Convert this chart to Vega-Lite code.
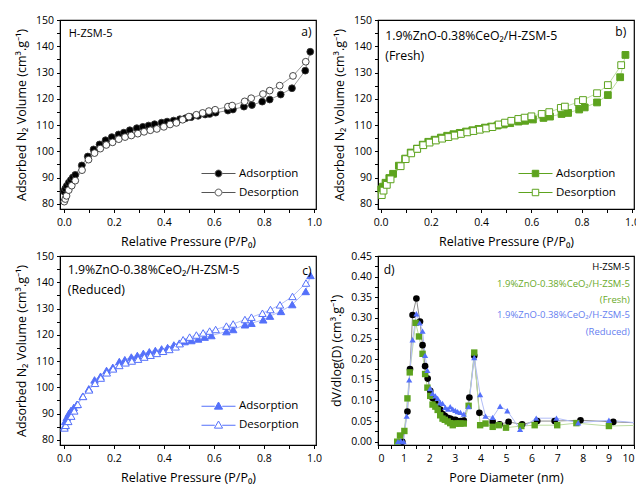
{
  "$schema": "https://vega.github.io/schema/vega-lite/v6.json",
  "padding": {"left": 14, "top": 14, "right": -3, "bottom": 0},
  "background": "white",
  "columns": 2,
  "spacing": {"row": 47, "column": 62},
  "bounds": "flush",
  "datasets": {
    "a": [
      {"P":0.001,"V":84.7,"s":"Adsorption"},{"P":0.006,"V":85.8,"s":"Adsorption"},{"P":0.012,"V":86.8,"s":"Adsorption"},{"P":0.02,"V":88.0,"s":"Adsorption"},{"P":0.028,"V":89.0,"s":"Adsorption"},{"P":0.036,"V":90.0,"s":"Adsorption"},{"P":0.046,"V":91.0,"s":"Adsorption"},{"P":0.072,"V":94.6,"s":"Adsorption"},{"P":0.096,"V":98.0,"s":"Adsorption"},{"P":0.119,"V":100.7,"s":"Adsorption"},{"P":0.143,"V":102.6,"s":"Adsorption"},{"P":0.167,"V":104.2,"s":"Adsorption"},{"P":0.192,"V":105.4,"s":"Adsorption"},{"P":0.219,"V":106.4,"s":"Adsorption"},{"P":0.24,"V":107.1,"s":"Adsorption"},{"P":0.264,"V":108.0,"s":"Adsorption"},{"P":0.292,"V":108.8,"s":"Adsorption"},{"P":0.316,"V":109.3,"s":"Adsorption"},{"P":0.339,"V":109.8,"s":"Adsorption"},{"P":0.363,"V":110.3,"s":"Adsorption"},{"P":0.391,"V":110.9,"s":"Adsorption"},{"P":0.413,"V":111.3,"s":"Adsorption"},{"P":0.439,"V":111.7,"s":"Adsorption"},{"P":0.464,"V":112.2,"s":"Adsorption"},{"P":0.487,"V":112.6,"s":"Adsorption"},{"P":0.509,"V":113.0,"s":"Adsorption"},{"P":0.537,"V":113.5,"s":"Adsorption"},{"P":0.565,"V":114.0,"s":"Adsorption"},{"P":0.583,"V":114.2,"s":"Adsorption"},{"P":0.607,"V":114.7,"s":"Adsorption"},{"P":0.656,"V":115.5,"s":"Adsorption"},{"P":0.676,"V":115.9,"s":"Adsorption"},{"P":0.72,"V":117.0,"s":"Adsorption"},{"P":0.752,"V":117.6,"s":"Adsorption"},{"P":0.793,"V":118.9,"s":"Adsorption"},{"P":0.823,"V":119.7,"s":"Adsorption"},{"P":0.867,"V":121.6,"s":"Adsorption"},{"P":0.912,"V":124.0,"s":"Adsorption"},{"P":0.965,"V":130.7,"s":"Adsorption"},{"P":0.985,"V":137.9,"s":"Adsorption"},
      {"P":0.002,"V":80.8,"s":"Desorption"},{"P":0.006,"V":81.8,"s":"Desorption"},{"P":0.011,"V":83.0,"s":"Desorption"},{"P":0.02,"V":85.2,"s":"Desorption"},{"P":0.032,"V":86.9,"s":"Desorption"},{"P":0.046,"V":88.8,"s":"Desorption"},{"P":0.073,"V":92.8,"s":"Desorption"},{"P":0.099,"V":96.8,"s":"Desorption"},{"P":0.123,"V":99.3,"s":"Desorption"},{"P":0.146,"V":101.0,"s":"Desorption"},{"P":0.17,"V":102.4,"s":"Desorption"},{"P":0.195,"V":103.4,"s":"Desorption"},{"P":0.22,"V":104.6,"s":"Desorption"},{"P":0.245,"V":105.4,"s":"Desorption"},{"P":0.27,"V":106.0,"s":"Desorption"},{"P":0.296,"V":106.7,"s":"Desorption"},{"P":0.321,"V":107.4,"s":"Desorption"},{"P":0.346,"V":108.0,"s":"Desorption"},{"P":0.372,"V":108.5,"s":"Desorption"},{"P":0.4,"V":109.3,"s":"Desorption"},{"P":0.425,"V":110.2,"s":"Desorption"},{"P":0.45,"V":110.8,"s":"Desorption"},{"P":0.475,"V":112.0,"s":"Desorption"},{"P":0.5,"V":113.2,"s":"Desorption"},{"P":0.53,"V":113.9,"s":"Desorption"},{"P":0.555,"V":114.6,"s":"Desorption"},{"P":0.58,"V":115.3,"s":"Desorption"},{"P":0.605,"V":115.8,"s":"Desorption"},{"P":0.656,"V":117.0,"s":"Desorption"},{"P":0.673,"V":117.4,"s":"Desorption"},{"P":0.723,"V":119.0,"s":"Desorption"},{"P":0.749,"V":120.2,"s":"Desorption"},{"P":0.796,"V":121.8,"s":"Desorption"},{"P":0.823,"V":123.1,"s":"Desorption"},{"P":0.863,"V":125.0,"s":"Desorption"},{"P":0.916,"V":128.7,"s":"Desorption"},{"P":0.967,"V":134.1,"s":"Desorption"}
    ],
    "b": [
      {"P":0.003,"V":85.5,"s":"Adsorption"},{"P":0.01,"V":86.5,"s":"Adsorption"},{"P":0.02,"V":88.0,"s":"Adsorption"},{"P":0.035,"V":89.8,"s":"Adsorption"},{"P":0.05,"V":91.4,"s":"Adsorption"},{"P":0.073,"V":94.5,"s":"Adsorption"},{"P":0.098,"V":97.2,"s":"Adsorption"},{"P":0.12,"V":99.5,"s":"Adsorption"},{"P":0.145,"V":101.0,"s":"Adsorption"},{"P":0.168,"V":102.5,"s":"Adsorption"},{"P":0.19,"V":103.6,"s":"Adsorption"},{"P":0.215,"V":104.4,"s":"Adsorption"},{"P":0.24,"V":105.2,"s":"Adsorption"},{"P":0.265,"V":105.9,"s":"Adsorption"},{"P":0.29,"V":106.5,"s":"Adsorption"},{"P":0.315,"V":107.0,"s":"Adsorption"},{"P":0.34,"V":107.5,"s":"Adsorption"},{"P":0.365,"V":108.0,"s":"Adsorption"},{"P":0.39,"V":108.5,"s":"Adsorption"},{"P":0.415,"V":109.0,"s":"Adsorption"},{"P":0.44,"V":109.4,"s":"Adsorption"},{"P":0.465,"V":109.8,"s":"Adsorption"},{"P":0.49,"V":110.2,"s":"Adsorption"},{"P":0.516,"V":110.7,"s":"Adsorption"},{"P":0.549,"V":111.3,"s":"Adsorption"},{"P":0.575,"V":111.6,"s":"Adsorption"},{"P":0.606,"V":112.1,"s":"Adsorption"},{"P":0.648,"V":112.7,"s":"Adsorption"},{"P":0.674,"V":113.2,"s":"Adsorption"},{"P":0.72,"V":114.2,"s":"Adsorption"},{"P":0.746,"V":114.6,"s":"Adsorption"},{"P":0.79,"V":115.9,"s":"Adsorption"},{"P":0.812,"V":116.7,"s":"Adsorption"},{"P":0.861,"V":118.6,"s":"Adsorption"},{"P":0.904,"V":121.4,"s":"Adsorption"},{"P":0.953,"V":128.2,"s":"Adsorption"},{"P":0.974,"V":136.7,"s":"Adsorption"},
      {"P":0.005,"V":83.3,"s":"Desorption"},{"P":0.012,"V":85.0,"s":"Desorption"},{"P":0.025,"V":87.2,"s":"Desorption"},{"P":0.04,"V":89.3,"s":"Desorption"},{"P":0.08,"V":94.3,"s":"Desorption"},{"P":0.1,"V":97.0,"s":"Desorption"},{"P":0.122,"V":99.2,"s":"Desorption"},{"P":0.146,"V":100.9,"s":"Desorption"},{"P":0.17,"V":102.3,"s":"Desorption"},{"P":0.195,"V":103.3,"s":"Desorption"},{"P":0.22,"V":104.1,"s":"Desorption"},{"P":0.245,"V":104.8,"s":"Desorption"},{"P":0.27,"V":105.4,"s":"Desorption"},{"P":0.295,"V":106.0,"s":"Desorption"},{"P":0.32,"V":106.6,"s":"Desorption"},{"P":0.345,"V":107.2,"s":"Desorption"},{"P":0.37,"V":107.7,"s":"Desorption"},{"P":0.395,"V":108.2,"s":"Desorption"},{"P":0.42,"V":108.7,"s":"Desorption"},{"P":0.445,"V":109.2,"s":"Desorption"},{"P":0.47,"V":110.2,"s":"Desorption"},{"P":0.495,"V":110.9,"s":"Desorption"},{"P":0.52,"V":111.6,"s":"Desorption"},{"P":0.548,"V":112.3,"s":"Desorption"},{"P":0.573,"V":112.8,"s":"Desorption"},{"P":0.6,"V":113.3,"s":"Desorption"},{"P":0.641,"V":114.2,"s":"Desorption"},{"P":0.671,"V":114.9,"s":"Desorption"},{"P":0.717,"V":116.5,"s":"Desorption"},{"P":0.733,"V":117.0,"s":"Desorption"},{"P":0.786,"V":118.7,"s":"Desorption"},{"P":0.805,"V":119.5,"s":"Desorption"},{"P":0.861,"V":122.1,"s":"Desorption"},{"P":0.904,"V":125.2,"s":"Desorption"},{"P":0.957,"V":132.8,"s":"Desorption"}
    ],
    "c": [
      {"P":0.002,"V":85.0,"s":"Adsorption"},{"P":0.006,"V":87.0,"s":"Adsorption"},{"P":0.012,"V":88.5,"s":"Adsorption"},{"P":0.02,"V":90.0,"s":"Adsorption"},{"P":0.029,"V":91.2,"s":"Adsorption"},{"P":0.04,"V":92.3,"s":"Adsorption"},{"P":0.052,"V":93.4,"s":"Adsorption"},{"P":0.076,"V":96.6,"s":"Adsorption"},{"P":0.1,"V":99.4,"s":"Adsorption"},{"P":0.123,"V":102.8,"s":"Adsorption"},{"P":0.147,"V":104.2,"s":"Adsorption"},{"P":0.171,"V":106.4,"s":"Adsorption"},{"P":0.196,"V":107.6,"s":"Adsorption"},{"P":0.222,"V":109.8,"s":"Adsorption"},{"P":0.244,"V":110.5,"s":"Adsorption"},{"P":0.27,"V":111.5,"s":"Adsorption"},{"P":0.294,"V":112.1,"s":"Adsorption"},{"P":0.318,"V":112.9,"s":"Adsorption"},{"P":0.342,"V":113.5,"s":"Adsorption"},{"P":0.366,"V":114.0,"s":"Adsorption"},{"P":0.391,"V":114.6,"s":"Adsorption"},{"P":0.415,"V":115.1,"s":"Adsorption"},{"P":0.44,"V":116.1,"s":"Adsorption"},{"P":0.462,"V":116.8,"s":"Adsorption"},{"P":0.483,"V":117.4,"s":"Adsorption"},{"P":0.51,"V":117.8,"s":"Adsorption"},{"P":0.537,"V":118.4,"s":"Adsorption"},{"P":0.563,"V":119.1,"s":"Adsorption"},{"P":0.59,"V":119.7,"s":"Adsorption"},{"P":0.65,"V":121.2,"s":"Adsorption"},{"P":0.677,"V":122.0,"s":"Adsorption"},{"P":0.724,"V":123.8,"s":"Adsorption"},{"P":0.75,"V":124.4,"s":"Adsorption"},{"P":0.797,"V":125.7,"s":"Adsorption"},{"P":0.824,"V":127.1,"s":"Adsorption"},{"P":0.868,"V":128.9,"s":"Adsorption"},{"P":0.913,"V":131.5,"s":"Adsorption"},{"P":0.967,"V":136.5,"s":"Adsorption"},{"P":0.986,"V":142.6,"s":"Adsorption"},
      {"P":0.003,"V":84.5,"s":"Desorption"},{"P":0.008,"V":85.5,"s":"Desorption"},{"P":0.018,"V":87.0,"s":"Desorption"},{"P":0.03,"V":89.0,"s":"Desorption"},{"P":0.042,"V":91.0,"s":"Desorption"},{"P":0.056,"V":93.5,"s":"Desorption"},{"P":0.077,"V":96.5,"s":"Desorption"},{"P":0.101,"V":99.0,"s":"Desorption"},{"P":0.125,"V":101.5,"s":"Desorption"},{"P":0.148,"V":103.5,"s":"Desorption"},{"P":0.172,"V":105.5,"s":"Desorption"},{"P":0.197,"V":107.0,"s":"Desorption"},{"P":0.222,"V":108.3,"s":"Desorption"},{"P":0.247,"V":109.3,"s":"Desorption"},{"P":0.272,"V":110.0,"s":"Desorption"},{"P":0.297,"V":110.7,"s":"Desorption"},{"P":0.322,"V":111.5,"s":"Desorption"},{"P":0.347,"V":112.2,"s":"Desorption"},{"P":0.372,"V":112.9,"s":"Desorption"},{"P":0.397,"V":113.7,"s":"Desorption"},{"P":0.422,"V":114.4,"s":"Desorption"},{"P":0.447,"V":115.4,"s":"Desorption"},{"P":0.463,"V":116.6,"s":"Desorption"},{"P":0.477,"V":118.1,"s":"Desorption"},{"P":0.503,"V":119.1,"s":"Desorption"},{"P":0.53,"V":119.9,"s":"Desorption"},{"P":0.557,"V":120.7,"s":"Desorption"},{"P":0.583,"V":121.4,"s":"Desorption"},{"P":0.607,"V":122.0,"s":"Desorption"},{"P":0.65,"V":123.3,"s":"Desorption"},{"P":0.677,"V":124.1,"s":"Desorption"},{"P":0.724,"V":125.8,"s":"Desorption"},{"P":0.75,"V":126.7,"s":"Desorption"},{"P":0.794,"V":128.2,"s":"Desorption"},{"P":0.826,"V":129.6,"s":"Desorption"},{"P":0.864,"V":131.4,"s":"Desorption"},{"P":0.914,"V":134.6,"s":"Desorption"},{"P":0.968,"V":139.7,"s":"Desorption"}
    ],
    "d": [
      {"D":0.95,"v":0.0,"s":"H-ZSM-5"},{"D":1.15,"v":0.073,"s":"H-ZSM-5"},{"D":1.25,"v":0.176,"s":"H-ZSM-5"},{"D":1.35,"v":0.307,"s":"H-ZSM-5"},{"D":1.5,"v":0.347,"s":"H-ZSM-5"},{"D":1.64,"v":0.291,"s":"H-ZSM-5"},{"D":1.74,"v":0.234,"s":"H-ZSM-5"},{"D":1.84,"v":0.183,"s":"H-ZSM-5"},{"D":1.94,"v":0.153,"s":"H-ZSM-5"},{"D":2.04,"v":0.123,"s":"H-ZSM-5"},{"D":2.13,"v":0.106,"s":"H-ZSM-5"},{"D":2.24,"v":0.095,"s":"H-ZSM-5"},{"D":2.33,"v":0.083,"s":"H-ZSM-5"},{"D":2.43,"v":0.078,"s":"H-ZSM-5"},{"D":2.52,"v":0.067,"s":"H-ZSM-5"},{"D":2.61,"v":0.063,"s":"H-ZSM-5"},{"D":2.72,"v":0.058,"s":"H-ZSM-5"},{"D":2.82,"v":0.056,"s":"H-ZSM-5"},{"D":2.92,"v":0.053,"s":"H-ZSM-5"},{"D":3.02,"v":0.053,"s":"H-ZSM-5"},{"D":3.11,"v":0.05,"s":"H-ZSM-5"},{"D":3.22,"v":0.05,"s":"H-ZSM-5"},{"D":3.35,"v":0.051,"s":"H-ZSM-5"},{"D":3.57,"v":0.107,"s":"H-ZSM-5"},{"D":3.76,"v":0.208,"s":"H-ZSM-5"},{"D":3.96,"v":0.07,"s":"H-ZSM-5"},{"D":4.48,"v":0.048,"s":"H-ZSM-5"},{"D":4.75,"v":0.042,"s":"H-ZSM-5"},{"D":5.1,"v":0.048,"s":"H-ZSM-5"},{"D":5.63,"v":0.042,"s":"H-ZSM-5"},{"D":6.22,"v":0.05,"s":"H-ZSM-5"},{"D":6.9,"v":0.05,"s":"H-ZSM-5"},{"D":7.91,"v":0.052,"s":"H-ZSM-5"},{"D":9.19,"v":0.048,"s":"H-ZSM-5"},{"D":10.4,"v":0.045,"s":"H-ZSM-5"},
      {"D":0.75,"v":0.0,"s":"Fresh"},{"D":0.86,"v":0.015,"s":"Fresh"},{"D":1.03,"v":0.026,"s":"Fresh"},{"D":1.15,"v":0.105,"s":"Fresh"},{"D":1.24,"v":0.168,"s":"Fresh"},{"D":1.47,"v":0.288,"s":"Fresh"},{"D":1.6,"v":0.255,"s":"Fresh"},{"D":1.74,"v":0.213,"s":"Fresh"},{"D":1.84,"v":0.164,"s":"Fresh"},{"D":1.93,"v":0.131,"s":"Fresh"},{"D":2.04,"v":0.111,"s":"Fresh"},{"D":2.13,"v":0.09,"s":"Fresh"},{"D":2.24,"v":0.085,"s":"Fresh"},{"D":2.33,"v":0.077,"s":"Fresh"},{"D":2.43,"v":0.064,"s":"Fresh"},{"D":2.52,"v":0.056,"s":"Fresh"},{"D":2.61,"v":0.053,"s":"Fresh"},{"D":2.72,"v":0.049,"s":"Fresh"},{"D":2.82,"v":0.045,"s":"Fresh"},{"D":2.92,"v":0.04,"s":"Fresh"},{"D":3.02,"v":0.044,"s":"Fresh"},{"D":3.11,"v":0.044,"s":"Fresh"},{"D":3.22,"v":0.044,"s":"Fresh"},{"D":3.35,"v":0.044,"s":"Fresh"},{"D":3.54,"v":0.087,"s":"Fresh"},{"D":3.76,"v":0.216,"s":"Fresh"},{"D":3.99,"v":0.04,"s":"Fresh"},{"D":4.2,"v":0.044,"s":"Fresh"},{"D":4.48,"v":0.036,"s":"Fresh"},{"D":4.72,"v":0.04,"s":"Fresh"},{"D":5.0,"v":0.034,"s":"Fresh"},{"D":5.6,"v":0.038,"s":"Fresh"},{"D":6.12,"v":0.04,"s":"Fresh"},{"D":7.0,"v":0.04,"s":"Fresh"},{"D":7.75,"v":0.045,"s":"Fresh"},{"D":9.02,"v":0.038,"s":"Fresh"},{"D":10.4,"v":0.04,"s":"Fresh"},
      {"D":0.78,"v":0.0,"s":"Reduced"},{"D":0.89,"v":0.002,"s":"Reduced"},{"D":1.0,"v":0.0,"s":"Reduced"},{"D":1.12,"v":0.062,"s":"Reduced"},{"D":1.22,"v":0.15,"s":"Reduced"},{"D":1.35,"v":0.247,"s":"Reduced"},{"D":1.5,"v":0.31,"s":"Reduced"},{"D":1.63,"v":0.288,"s":"Reduced"},{"D":1.74,"v":0.268,"s":"Reduced"},{"D":1.84,"v":0.209,"s":"Reduced"},{"D":1.93,"v":0.173,"s":"Reduced"},{"D":2.04,"v":0.129,"s":"Reduced"},{"D":2.13,"v":0.117,"s":"Reduced"},{"D":2.24,"v":0.111,"s":"Reduced"},{"D":2.33,"v":0.105,"s":"Reduced"},{"D":2.43,"v":0.095,"s":"Reduced"},{"D":2.52,"v":0.093,"s":"Reduced"},{"D":2.63,"v":0.083,"s":"Reduced"},{"D":2.73,"v":0.079,"s":"Reduced"},{"D":2.82,"v":0.085,"s":"Reduced"},{"D":2.92,"v":0.079,"s":"Reduced"},{"D":3.02,"v":0.076,"s":"Reduced"},{"D":3.11,"v":0.073,"s":"Reduced"},{"D":3.22,"v":0.071,"s":"Reduced"},{"D":3.35,"v":0.067,"s":"Reduced"},{"D":3.54,"v":0.085,"s":"Reduced"},{"D":3.76,"v":0.204,"s":"Reduced"},{"D":3.99,"v":0.114,"s":"Reduced"},{"D":4.2,"v":0.062,"s":"Reduced"},{"D":4.48,"v":0.059,"s":"Reduced"},{"D":4.77,"v":0.086,"s":"Reduced"},{"D":5.05,"v":0.075,"s":"Reduced"},{"D":5.55,"v":0.03,"s":"Reduced"},{"D":6.18,"v":0.057,"s":"Reduced"},{"D":6.97,"v":0.057,"s":"Reduced"},{"D":7.82,"v":0.046,"s":"Reduced"},{"D":9.02,"v":0.052,"s":"Reduced"},{"D":10.4,"v":0.044,"s":"Reduced"}
    ]
  },
  "concat": [
    {
      "width": 256, "height": 189,
      "layer": [
        {"data": {"name": "a"},
         "mark": {"type": "line", "stroke": "#9a9a9a", "strokeWidth": 1},
         "encoding": {
           "x": {"field": "P", "type": "quantitative", "scale": {"domain": [-0.015, 1.008], "nice": false, "zero": false},
                 "axis": {"title": "Relative Pressure (P/P₀)", "tickCount": 100, "labelOverlap": false, "values": [0,0.1,0.2,0.3,0.4,0.5,0.6,0.7,0.8,0.9,1.0], "labelExpr": "round(datum.value*10) % 2 == 0 ? format(datum.value, '.1f') : ''"}},
           "y": {"field": "V", "type": "quantitative", "scale": {"domain": [78, 150], "nice": false, "zero": false},
                 "axis": {"title": "Adsorbed N₂ Volume (cm³.g⁻¹)", "tickCount": 100, "labelOverlap": false, "values": [80,85,90,95,100,105,110,115,120,125,130,135,140,145,150], "labelExpr": "datum.value % 10 == 0 ? format(datum.value, 'd') : ''"}},
           "detail": {"field": "s"}
         }},
        {"data": {"name": "a"},
         "mark": {"type": "point", "shape": "circle", "filled": true, "size": 46, "stroke": "#333333", "strokeWidth": 0.9, "opacity": 1},
         "encoding": {
           "x": {"field": "P", "type": "quantitative"},
           "y": {"field": "V", "type": "quantitative"},
           "fill": {"field": "s", "type": "nominal", "scale": {"domain": ["Adsorption", "Desorption"], "range": ["#000000", "#ffffff"]},
                    "legend": {"orient": "none", "legendX": 141, "legendY": 145, "title": null,
                               "symbolType": "M-1,0H-0.22M0.22,0H1M-0.2,0A0.2,0.2,0,1,0,0.2,0A0.2,0.2,0,1,0,-0.2,0Z",
                               "symbolSize": 1156, "symbolStrokeColor": "#555555", "symbolStrokeWidth": 1, "clipHeight": 17, "rowPadding": 2, "padding": 0, "labelOffset": 3}}
         }},
        {"data": {"values": [{}]}, "mark": {"type": "text", "text": "H-ZSM-5", "align": "left", "baseline": "middle", "fontSize": 11},
         "encoding": {"x": {"datum": 0.02, "type": "quantitative"}, "y": {"datum": 144.5, "type": "quantitative"}}},
        {"data": {"values": [{}]}, "mark": {"type": "text", "text": "a)", "align": "right", "baseline": "middle", "fontSize": 12},
         "encoding": {"x": {"datum": 0.99, "type": "quantitative"}, "y": {"datum": 145.3, "type": "quantitative"}}}
      ]
    },
    {
      "width": 256, "height": 189,
      "layer": [
        {"data": {"name": "b"},
         "mark": {"type": "line", "stroke": "#bcdca0", "strokeWidth": 1},
         "encoding": {
           "x": {"field": "P", "type": "quantitative", "scale": {"domain": [-0.01, 1.008], "nice": false, "zero": false},
                 "axis": {"title": "Relative Pressure (P/P₀)", "tickCount": 100, "labelOverlap": false, "values": [0,0.1,0.2,0.3,0.4,0.5,0.6,0.7,0.8,0.9,1.0], "labelExpr": "round(datum.value*10) % 2 == 0 ? format(datum.value, '.1f') : ''"}},
           "y": {"field": "V", "type": "quantitative", "scale": {"domain": [78, 150], "nice": false, "zero": false},
                 "axis": {"title": "Adsorbed N₂ Volume (cm³.g⁻¹)", "tickCount": 100, "labelOverlap": false, "values": [80,85,90,95,100,105,110,115,120,125,130,135,140,145,150], "labelExpr": "datum.value % 10 == 0 ? format(datum.value, 'd') : ''"}},
           "detail": {"field": "s"}
         }},
        {"data": {"name": "b"},
         "mark": {"type": "point", "shape": "square", "filled": true, "size": 46, "stroke": "#5da31e", "strokeWidth": 1, "opacity": 1},
         "encoding": {
           "x": {"field": "P", "type": "quantitative"},
           "y": {"field": "V", "type": "quantitative"},
           "fill": {"field": "s", "type": "nominal", "scale": {"domain": ["Adsorption", "Desorption"], "range": ["#5da31e", "#ffffff"]},
                    "legend": {"orient": "none", "legendX": 140, "legendY": 145, "title": null,
                               "symbolType": "M-1,0H-0.2M0.2,0H1M-0.19,-0.19H0.19V0.19H-0.19Z",
                               "symbolSize": 1156, "symbolStrokeColor": "#5da31e", "symbolStrokeWidth": 1, "clipHeight": 17, "rowPadding": 2, "padding": 0, "labelOffset": 3}}
         }},
        {"data": {"values": [{}]}, "mark": {"type": "text", "text": "1.9%ZnO-0.38%CeO₂/H-ZSM-5", "align": "left", "baseline": "middle", "fontSize": 12.3},
         "encoding": {"x": {"datum": 0.019, "type": "quantitative"}, "y": {"datum": 144.0, "type": "quantitative"}}},
        {"data": {"values": [{}]}, "mark": {"type": "text", "text": "(Fresh)", "align": "left", "baseline": "middle", "fontSize": 12.3},
         "encoding": {"x": {"datum": 0.019, "type": "quantitative"}, "y": {"datum": 136.4, "type": "quantitative"}}},
        {"data": {"values": [{}]}, "mark": {"type": "text", "text": "b)", "align": "right", "baseline": "middle", "fontSize": 12},
         "encoding": {"x": {"datum": 0.977, "type": "quantitative"}, "y": {"datum": 145.3, "type": "quantitative"}}}
      ]
    },
    {
      "width": 256, "height": 189,
      "layer": [
        {"data": {"name": "c"},
         "mark": {"type": "line", "stroke": "#b2bdf7", "strokeWidth": 1},
         "encoding": {
           "x": {"field": "P", "type": "quantitative", "scale": {"domain": [-0.015, 1.008], "nice": false, "zero": false},
                 "axis": {"title": "Relative Pressure (P/P₀)", "tickCount": 100, "labelOverlap": false, "values": [0,0.1,0.2,0.3,0.4,0.5,0.6,0.7,0.8,0.9,1.0], "labelExpr": "round(datum.value*10) % 2 == 0 ? format(datum.value, '.1f') : ''"}},
           "y": {"field": "V", "type": "quantitative", "scale": {"domain": [78, 150], "nice": false, "zero": false},
                 "axis": {"title": "Adsorbed N₂ Volume (cm³.g⁻¹)", "tickCount": 100, "labelOverlap": false, "values": [80,85,90,95,100,105,110,115,120,125,130,135,140,145,150], "labelExpr": "datum.value % 10 == 0 ? format(datum.value, 'd') : ''"}},
           "detail": {"field": "s"}
         }},
        {"data": {"name": "c"},
         "mark": {"type": "point", "shape": "triangle-up", "filled": true, "size": 56, "stroke": "#5470fa", "strokeWidth": 1, "opacity": 1},
         "encoding": {
           "x": {"field": "P", "type": "quantitative"},
           "y": {"field": "V", "type": "quantitative"},
           "fill": {"field": "s", "type": "nominal", "scale": {"domain": ["Adsorption", "Desorption"], "range": ["#5470fa", "#ffffff"]},
                    "legend": {"orient": "none", "legendX": 141, "legendY": 142, "title": null,
                               "symbolType": "M-1,0H-0.22M0.22,0H1M0,-0.25L0.24,0.17H-0.24Z",
                               "symbolSize": 1156, "symbolStrokeColor": "#5470fa", "symbolStrokeWidth": 1, "clipHeight": 16.5, "rowPadding": 2, "padding": 0, "labelOffset": 3}}
         }},
        {"data": {"values": [{}]}, "mark": {"type": "text", "text": "1.9%ZnO-0.38%CeO₂/H-ZSM-5", "align": "left", "baseline": "middle", "fontSize": 12.3},
         "encoding": {"x": {"datum": 0.016, "type": "quantitative"}, "y": {"datum": 144.5, "type": "quantitative"}}},
        {"data": {"values": [{}]}, "mark": {"type": "text", "text": "(Reduced)", "align": "left", "baseline": "middle", "fontSize": 12.3},
         "encoding": {"x": {"datum": 0.016, "type": "quantitative"}, "y": {"datum": 136.9, "type": "quantitative"}}},
        {"data": {"values": [{}]}, "mark": {"type": "text", "text": "c)", "align": "right", "baseline": "middle", "fontSize": 12},
         "encoding": {"x": {"datum": 0.99, "type": "quantitative"}, "y": {"datum": 144.3, "type": "quantitative"}}}
      ]
    },
    {
      "width": 256, "height": 189,
      "layer": [
        {"data": {"name": "d"},
         "mark": {"type": "line", "strokeWidth": 1, "clip": true},
         "encoding": {
           "x": {"field": "D", "type": "quantitative", "scale": {"domain": [0, 10], "nice": false},
                 "axis": {"title": "Pore Diameter (nm)", "tickCount": 100, "labelOverlap": false, "values": [0,0.5,1,1.5,2,2.5,3,3.5,4,4.5,5,5.5,6,6.5,7,7.5,8,8.5,9,9.5,10], "labelExpr": "datum.value % 1 == 0 ? format(datum.value, 'd') : ''"}},
           "y": {"field": "v", "type": "quantitative", "scale": {"domain": [-0.008, 0.45], "nice": false, "zero": false},
                 "axis": {"title": "dV/dlog(D) (cm³.g⁻¹)", "tickCount": 100, "labelOverlap": false, "values": [0,0.025,0.05,0.075,0.1,0.125,0.15,0.175,0.2,0.225,0.25,0.275,0.3,0.325,0.35,0.375,0.4,0.425,0.45], "labelExpr": "round(datum.value*1000) % 50 == 0 ? format(datum.value, '.2f') : ''"}},
           "color": {"field": "s", "type": "nominal", "scale": {"domain": ["H-ZSM-5", "Fresh", "Reduced"], "range": ["#8c8c8c", "#bcdca0", "#b2bdf7"]}, "legend": null}
         }},
        {"data": {"name": "d"},
         "mark": {"type": "point", "filled": true, "opacity": 1, "clip": true},
         "encoding": {
           "x": {"field": "D", "type": "quantitative"},
           "y": {"field": "v", "type": "quantitative"},
           "shape": {"field": "s", "type": "nominal", "scale": {"domain": ["H-ZSM-5", "Fresh", "Reduced"], "range": ["circle", "square", "triangle-up"]}, "legend": null},
           "fill": {"field": "s", "type": "nominal", "scale": {"domain": ["H-ZSM-5", "Fresh", "Reduced"], "range": ["#000000", "#5da31e", "#5470fa"]}, "legend": null},
           "size": {"field": "s", "type": "nominal", "scale": {"domain": ["H-ZSM-5", "Fresh", "Reduced"], "range": [44, 38, 62]}, "legend": null}
         }},
        {"data": {"values": [{}]}, "mark": {"type": "text", "text": "d)", "align": "left", "baseline": "middle", "fontSize": 12},
         "encoding": {"x": {"datum": 0.22, "type": "quantitative"}, "y": {"datum": 0.417, "type": "quantitative"}}},
        {"data": {"values": [{}]}, "mark": {"type": "text", "text": "H-ZSM-5", "align": "right", "baseline": "middle", "fontSize": 9.5, "color": "#000000"},
         "encoding": {"x": {"datum": 9.84, "type": "quantitative"}, "y": {"datum": 0.424, "type": "quantitative"}}},
        {"data": {"values": [{}]}, "mark": {"type": "text", "text": "1.9%ZnO-0.38%CeO₂/H-ZSM-5", "align": "right", "baseline": "middle", "fontSize": 9.5, "color": "#6aaa2a"},
         "encoding": {"x": {"datum": 9.84, "type": "quantitative"}, "y": {"datum": 0.383, "type": "quantitative"}}},
        {"data": {"values": [{}]}, "mark": {"type": "text", "text": "(Fresh)", "align": "right", "baseline": "middle", "fontSize": 9.5, "color": "#6aaa2a"},
         "encoding": {"x": {"datum": 9.84, "type": "quantitative"}, "y": {"datum": 0.344, "type": "quantitative"}}},
        {"data": {"values": [{}]}, "mark": {"type": "text", "text": "1.9%ZnO-0.38%CeO₂/H-ZSM-5", "align": "right", "baseline": "middle", "fontSize": 9.5, "color": "#6680f0"},
         "encoding": {"x": {"datum": 9.84, "type": "quantitative"}, "y": {"datum": 0.306, "type": "quantitative"}}},
        {"data": {"values": [{}]}, "mark": {"type": "text", "text": "(Reduced)", "align": "right", "baseline": "middle", "fontSize": 9.5, "color": "#6680f0"},
         "encoding": {"x": {"datum": 9.84, "type": "quantitative"}, "y": {"datum": 0.267, "type": "quantitative"}}}
      ]
    }
  ],
  "resolve": {
    "scale": {"x": "independent", "y": "independent", "fill": "independent", "color": "independent", "shape": "independent", "size": "independent"},
    "legend": {"fill": "independent", "color": "independent", "shape": "independent", "size": "independent"}
  },
  "config": {
    "font": "Open Sans",
    "view": {"stroke": "#000000", "strokeWidth": 1.2},
    "text": {"font": "Open Sans", "color": "#000000"},
    "axis": {
      "labelFont": "Open Sans", "titleFont": "Open Sans", "labelFontSize": 10.5, "titleFontSize": 12.5,
      "titleFontWeight": "normal", "labelColor": "#000000", "titleColor": "#000000",
      "domainColor": "#000000", "tickColor": "#000000", "tickSize": 3.5, "grid": false,
      "labelPadding": 3, "labelOverlap": false, "titlePadding": 7
    },
    "axisX": {"labelPadding": 5, "titlePadding": 7},
    "legend": {"labelFont": "Open Sans", "labelFontSize": 11.5, "labelColor": "#000000"}
  }
}
